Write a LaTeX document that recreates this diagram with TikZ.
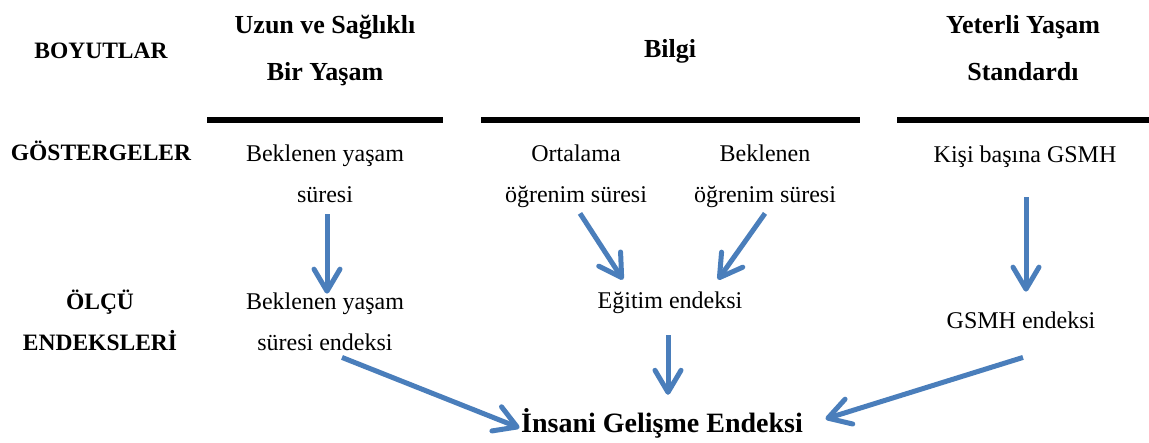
\documentclass[tikz,border=0pt]{standalone}
\usepackage{fontspec}
\setmainfont{Liberation Serif}
\usetikzlibrary{arrows.meta,calc}
\definecolor{arrowblue}{RGB}{74,126,187}
\begin{document}
\begin{tikzpicture}[x=1pt,y=-1pt,
  txt/.style={inner sep=0pt, anchor=base, align=center, font=\fontsize{24}{41}\selectfont},
  head/.style={inner sep=0pt, anchor=base, align=center, font=\fontsize{26}{47}\selectfont\bfseries},
  lab/.style={inner sep=0pt, anchor=base, align=center, font=\fontsize{23.5}{41}\selectfont\bfseries},
  final/.style={inner sep=0pt, anchor=base, font=\fontsize{28}{34}\selectfont\bfseries},
  rulebar/.style={line width=6pt},
  flow/.style={draw=arrowblue, line width=5pt, -{Straight Barb[length=22pt,width=26pt,round]}}]
\useasboundingbox (0,0) rectangle (1149,442);

% column headings (base = baseline of last line)
\node[lab]  (h0) at (101,58) {BOYUTLAR};
\node[head] (h1) at (325,80) {Uzun ve Sağlıklı\\Bir Yaşam};
\node[head] (h2) at (670,57) {Bilgi};
\node[head] (h3) at (1023,80) {Yeterli Yaşam\\Standardı};

% separator rules
\draw[rulebar] (207,120) -- (443,120);
\draw[rulebar] (481,120) -- (860,120);
\draw[rulebar] (897,120) -- (1149,120);

% indicators
\node[lab] (g0) at (101,160) {GÖSTERGELER};
\node[txt] (g1) at (325,202) {Beklenen yaşam\\süresi};
\node[txt] (g2a) at (576,202) {Ortalama\\öğrenim süresi};
\node[txt] (g2b) at (765,202) {Beklenen\\öğrenim süresi};
\node[txt] (g3) at (1025,162) {Kişi başına GSMH};

% indices
\node[lab] (o0) at (100,350) {ÖLÇÜ\\ENDEKSLERİ};
\node[txt] (o1) at (325,350) {Beklenen yaşam\\süresi endeksi};
\node[txt] (o2) at (670,308) {Eğitim endeksi};
\node[txt] (o3) at (1021,328) {GSMH endeksi};

\node[final] (ihg) at (662,432) {İnsani Gelişme Endeksi};

% arrows
\draw[flow] ($(g1.south)+(2,12)$) -- ($(o1.north)+(2,1.5)$);
\draw[flow] ($(g2a.south)+(4,6)$) -- ($(o2.north)+(-47,-11.5)$);
\draw[flow] ($(g2b.south)+(0,6)$) -- ($(o2.north)+(48,-11.5)$);
\draw[flow] ($(g3.south)+(1,30)$) -- ($(o3.north)+(5,-19.5)$);
\draw[flow] ($(o2.south)+(-2,22)$) -- ($(ihg.north)+(6,-13)$);
\draw[flow] ($(o1.south)+(17,7)$) -- ($(ihg.west)+(-1.5,5)$);
\draw[flow] ($(o3.south)+(2,29)$) -- ($(ihg.east)+(22.5,-4)$);
\end{tikzpicture}
\end{document}
